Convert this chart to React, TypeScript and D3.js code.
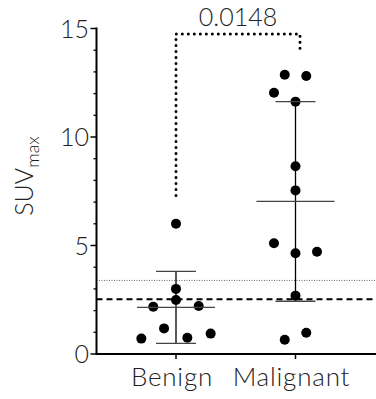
import React from 'react'
import * as d3 from 'd3'

const groups = ['Benign', 'Malignant']
const benign = [6.0, 3.0, 2.49, 2.18, 2.21, 1.18, 0.71, 0.75, 0.94]
const malignant = [12.87, 12.81, 12.04, 11.63, 8.65, 7.54, 5.1, 4.64, 4.71, 2.69, 0.66, 0.98]
// horizontal jitter as a fraction of the category spacing
const benignJitter = [0, 0, 0, -0.19, 0.19, -0.1, -0.29, 0.095, 0.29]
const malignantJitter = [-0.09, 0.09, -0.18, 0, 0, 0, -0.18, 0, 0.18, 0, -0.09, 0.09]
const means = [2.15, 7.03]
const sds = [1.66, 4.6]
const yTicks = [0, 5, 10, 15]
const cutoffDashed = 2.52
const cutoffDotted = 3.39
const pLabel = '0.0148'
const bracketTop = 14.75
const bracketEnds = [7.3, 14.0]

const W = 376
const H = 399
const font = 'Lato, "DejaVu Sans", sans-serif'

export default function App() {
  const y = d3.scaleLinear().domain([0, 15]).range([354, 28.5])
  const x = d3.scalePoint<string>().domain(groups).range([176, 295.5])
  const step = x.step()
  const x0 = 96.5
  const minor = d3.range(0, 16).filter(v => v % 5 !== 0)
  const series = [
    { name: groups[0], vals: benign, jit: benignJitter },
    { name: groups[1], vals: malignant, jit: malignantJitter },
  ]
  const bx0 = x(groups[0])!
  const bx1 = x(groups[1])! + 4.5

  return (
    <svg width={W} height={H} style={{ position: 'absolute', left: 0, top: 0, background: '#fff' }}>
      {/* reference lines */}
      <line x1={x0} x2={W} y1={y(cutoffDotted)} y2={y(cutoffDotted)} stroke="#666" strokeWidth={1} strokeDasharray="1 1.5" />
      <line x1={x0} x2={W} y1={y(cutoffDashed)} y2={y(cutoffDashed)} stroke="#000" strokeWidth={2} strokeDasharray="6 4" />

      {/* y axis */}
      <line x1={x0} x2={x0} y1={y(15) - 1} y2={y(0) + 1} stroke="#000" strokeWidth={2} />
      {yTicks.map(t => (
        <g key={t}>
          <line x1={x0 - 6} x2={x0} y1={y(t)} y2={y(t)} stroke="#000" strokeWidth={1.5} />
          <text x={89} y={y(t)} dy="0.36em" textAnchor="end" fontFamily={font} fontWeight={300} fontSize={25} fill="#222">{t}</text>
        </g>
      ))}
      {minor.map(t => (
        <line key={t} x1={x0 - 3} x2={x0} y1={y(t)} y2={y(t)} stroke="#000" strokeWidth={1.3} />
      ))}
      <text transform={`translate(33,176) rotate(-90)`} textAnchor="middle" fontFamily={font} fontWeight={300} fontSize={25} fill="#222">
        SUV<tspan fontSize={18} dy={6}>max</tspan>
      </text>

      {/* x axis */}
      <line x1={x0} x2={W} y1={y(0)} y2={y(0)} stroke="#000" strokeWidth={2} />
      {groups.map(g => (
        <g key={g}>
          <line x1={x(g)} x2={x(g)} y1={y(0)} y2={y(0) + 5} stroke="#000" strokeWidth={1.5} />
          <text x={x(g)! - 4} y={386} textAnchor="middle" fontFamily={font} fontWeight={300} fontSize={26} letterSpacing={0.8} fill="#222">{g}</text>
        </g>
      ))}

      {/* points */}
      {series.map(s => s.vals.map((v, i) => (
        <circle key={s.name + i} cx={x(s.name)! + s.jit[i] * step} cy={y(v)} r={5} fill="#000" />
      )))}

      {/* mean and SD */}
      {groups.map((g, i) => {
        const cx = x(g)!
        const hi = y(means[i] + sds[i])
        const lo = y(Math.max(0, means[i] - sds[i]))
        return (
          <g key={g}>
            <line x1={cx} x2={cx} y1={hi} y2={lo} stroke="#000" strokeWidth={1.3} />
            <line x1={cx - 20} x2={cx + 20} y1={hi} y2={hi} stroke="#444" strokeWidth={1.3} />
            <line x1={cx - 20} x2={cx + 20} y1={lo} y2={lo} stroke="#444" strokeWidth={1.3} />
            <line x1={cx - 39} x2={cx + 39} y1={y(means[i])} y2={y(means[i])} stroke="#444" strokeWidth={1.3} />
          </g>
        )
      })}

      {/* significance bracket */}
      <path
        d={`M${bx0},${y(bracketEnds[0])}V${y(bracketTop)}H${bx1}V${y(bracketEnds[1])}`}
        fill="none" stroke="#000" strokeWidth={3} strokeDasharray="0 6" strokeLinecap="round"
      />
      <text x={(bx0 + bx1) / 2} y={26} textAnchor="middle" fontFamily={font} fontWeight={300} fontSize={25} fill="#222">{pLabel}</text>
    </svg>
  )
}
